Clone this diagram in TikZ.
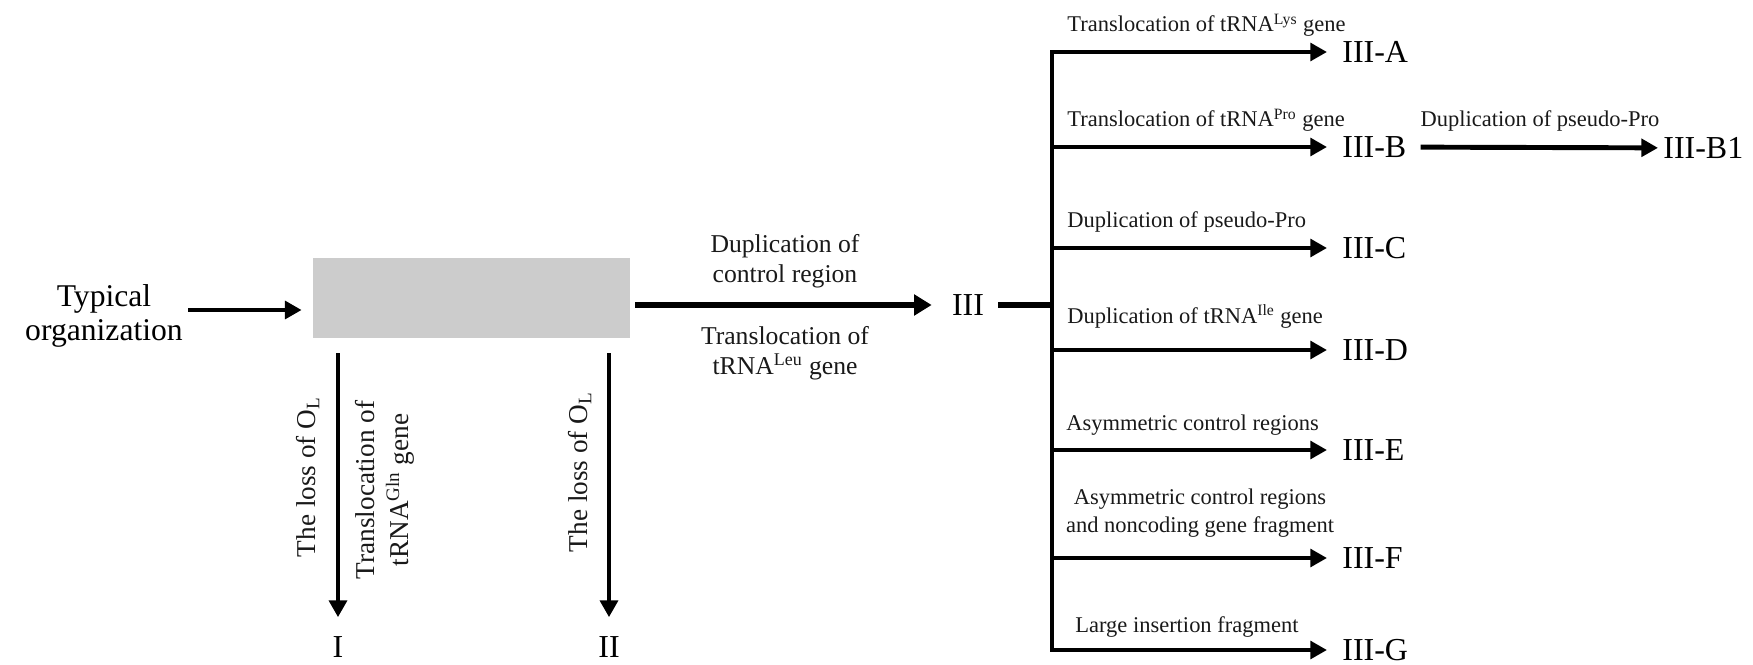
\documentclass[tikz,border=0pt]{standalone}
\usepackage{fontspec}
\setmainfont{Liberation Serif}
\usetikzlibrary{arrows.meta,positioning}

\tikzset{
	arr/.style={line width=2.8pt,-{Triangle[length=9.5pt,width=10pt]}},
	bigarr/.style={line width=3.6pt,-{Triangle[length=10pt,width=11.5pt]}},
	bar/.style={line width=2.8pt},
	stage/.style={font=\fontsize{18.2}{20}\selectfont,inner sep=0pt},
	lbl/.style={font=\fontsize{12.8}{16}\selectfont,inner sep=0pt,text=black!90},
	mid/.style={font=\fontsize{14.6}{17}\selectfont,align=center,inner sep=0pt,text=black!90},
	side/.style={font=\fontsize{15.5}{19}\selectfont,align=center,rotate=90,inner sep=0pt,text=black!90},
	graybox/.style={fill=black!20,minimum width=63.4mm,minimum height=16mm,inner sep=0pt},
}

\begin{document}
\begin{tikzpicture}[x=0.2mm,y=-0.2mm]
	\useasboundingbox (0,0) rectangle (1753,665);
	
	% left part
	\node[font=\fontsize{18}{19.5}\selectfont,align=center,inner sep=0pt] (typ) at (104,316) {Typical\\organization};
	\node[graybox] (org) at (471.5,298) {};
	\draw[arr,shorten <=1mm,shorten >=2.2mm] ([yshift=1.2mm]typ.east) -- ([yshift=1.2mm]typ.east -| org.west);
	
	\node[stage] (I) at (338,647) {I};
	\node[stage] (II) at (609,647) {II};
	\draw[arr,shorten <=3mm,shorten >=3.8mm] (org.south -| I) -- (I);
	\draw[arr,shorten <=3mm,shorten >=3.8mm] (org.south -| II) -- (II);
	
	\node[side] (lossI) at (308,477) {The loss of O\textsubscript{L}};
	\node[side] (glnI) at (385,490) {Translocation of\\tRNA\textsuperscript{Gln} gene};
	\node[side] (lossII) at (580,472) {The loss of O\textsubscript{L}};
	
	% III
	\node[stage] (III) at (968,305) {III};
	\draw[bigarr,shorten <=1mm,shorten >=4mm] (org.east |- III) -- (III);
	\node[mid,anchor=south] (dupcr) at (785,288) {Duplication of\\control region};
	\node[mid,anchor=north] (leu) at (785,326) {Translocation of\\tRNA\textsuperscript{Leu} gene};
	
	\coordinate (j) at (1052,305);
	\coordinate (top) at (1052,52);
	\coordinate (bot) at (1052,650);
	\draw[bar,line width=3.4pt,shorten <=2.8mm] (III) -- (j);
	\draw[bar,line cap=rect] (top) -- (bot);
	
	% branches
	\foreach \n/\y in {A/52,B/147,C/248,D/350,E/450,F/558,G/650}{
		\coordinate (t\n) at (1052,\y);
		\node[stage,anchor=west] (III\n) at (1342,\y) {III-\n};
		\draw[arr,shorten >=3mm] (t\n) -- (III\n);
	}
	
	\node[lbl,anchor=base west] (labA) at (1067,32) {Translocation of tRNA\textsuperscript{Lys} gene};
	\node[lbl,anchor=base west] (labB) at (1067,127) {Translocation of tRNA\textsuperscript{Pro} gene};
	\node[lbl,anchor=base west] (labC) at (1067,228) {Duplication of pseudo-Pro};
	\node[lbl,anchor=base west] (labD) at (1067,323) {Duplication of tRNA\textsuperscript{Ile} gene};
	\node[lbl,anchor=base west] (labE) at (1066,430) {Asymmetric control regions};
	\node[lbl,anchor=south,align=center] (labF) at (1200,538) {Asymmetric control regions\\and noncoding gene fragment};
	\node[lbl,anchor=base west] (labG) at (1075,632) {Large insertion fragment};
	
	% III-B1
	\node[stage,anchor=west] (IIIB1) at (1663,148) {III-B1};
	\draw[arr,shorten <=2.8mm,shorten >=1mm] (IIIB) -- (IIIB1);
	\node[lbl,anchor=base] (labB1) at (1540,127) {Duplication of pseudo-Pro};
	
\end{tikzpicture}
\end{document}
